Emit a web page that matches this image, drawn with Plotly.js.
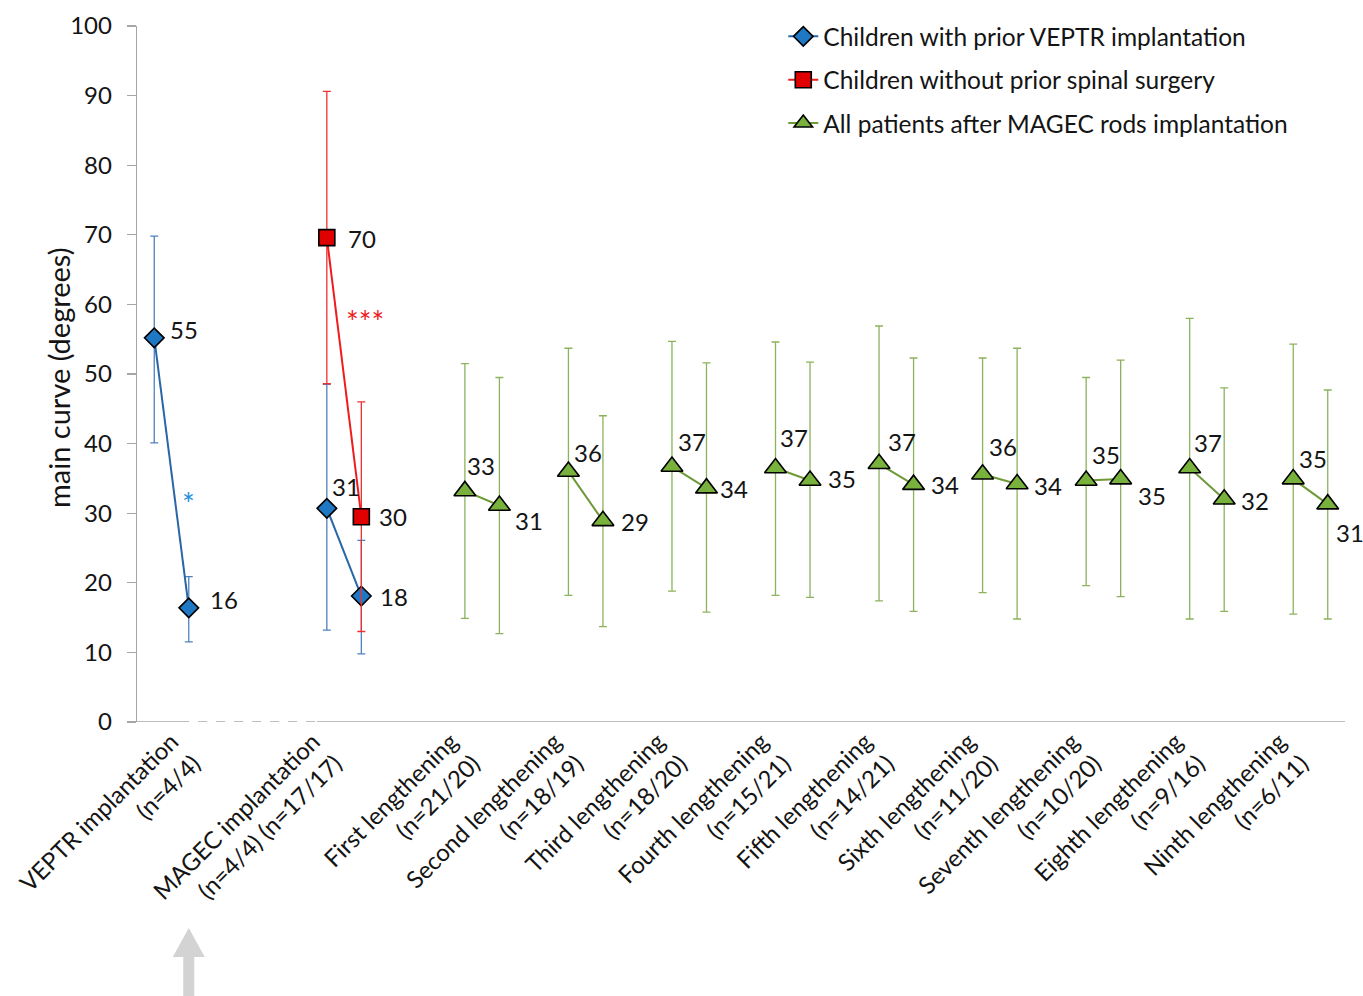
<!DOCTYPE html>
<html>
<head>
<meta charset="utf-8">
<script src="https://cdn.plot.ly/plotly-3.0.1.min.js"></script>
<style>html,body{margin:0;padding:0;background:#fff;} #chart{width:1363px;height:996px;}</style>
</head>
<body>
<div id="chart"></div>
<script>
// ---- Categories (x axis) ----
const categories = [
  'VEPTR implantation<br>(n=4/4)',
  'MAGEC implantation<br>(n=4/4) (n=17/17)',
  'First lengthening<br>(n=21/20)',
  'Second lengthening<br>(n=18/19)',
  'Third lengthening<br>(n=18/20)',
  'Fourth lengthening<br>(n=15/21)',
  'Fifth lengthening<br>(n=14/21)',
  'Sixth lengthening<br>(n=11/20)',
  'Seventh lengthening<br>(n=10/20)',
  'Eighth lengthening<br>(n=9/16)',
  'Ninth lengthening<br>(n=6/11)'
];
// first slot index of each category's pair (before / after)
const catSlot = [0, 5, 9, 12, 15, 18, 21, 24, 27, 30, 33];

// ---- Series 1: Children with prior VEPTR implantation ----
const veptrCat   = [0, 0, 1, 1];
const veptrStep  = [0, 1, 0, 1];
const veptrMean  = [55.2, 16.4, 30.7, 18.1];
const veptrUpper = [69.8, 20.9, 48.5, 26.1];
const veptrLower = [40.1, 11.5, 13.2, 9.8];
const veptrText  = ['55', '16', '31', '18'];

// ---- Series 2: Children without prior spinal surgery ----
const noSurgCat   = [1, 1];
const noSurgStep  = [0, 1];
const noSurgMean  = [69.6, 29.5];
const noSurgUpper = [90.6, 46.0];
const noSurgLower = [48.6, 13.0];
const noSurgText  = ['70', '30'];

// ---- Series 3: All patients after MAGEC rods implantation ----
const allCat   = [2,2,3,3,4,4,5,5,6,6,7,7,8,8,9,9,10,10];
const allStep  = [0,1,0,1,0,1,0,1,0,1,0,1,0,1,0,1,0,1];
const allMean  = [33.2,31.1,36.0,28.9,36.7,33.6,36.5,34.7,37.1,34.1,35.6,34.2,34.7,34.9,36.5,32.0,34.9,31.3];
const allUpper = [51.5,49.5,53.7,44.0,54.7,51.6,54.6,51.7,56.9,52.3,52.3,53.7,49.5,52.0,58.0,48.0,54.3,47.7];
const allLower = [14.9,12.7,18.2,13.7,18.8,15.8,18.2,17.9,17.4,15.9,18.6,14.8,19.6,18.0,14.8,15.9,15.5,14.8];
const allText  = ['33','31','36','29','37','34','37','35','37','34','36','34','35','35','37','32','35','31'];

// data-label offsets in pixels [dx to text left edge, dy to text middle] (style)
const veptrOff  = [[14,-8],[19,-8],[3,-22],[17,0]];
const noSurgOff = [[19,1],[16,0]];
const allOff = [[0,-25],[14,15],[4,-19],[16,1],[4,-25],[12,0],[2,-30],[16,-2],[7,-22],
                [15,0],[4,-28],[15,2],[4,-26],[15,16],[2,-25],[15,1],[4,-21],[6,28]];

// build arrays with gaps between pairs
function build(cat, step, mean, upper, lower) {
  const o = {x:[], y:[], up:[], dn:[], px:[], py:[]};
  for (let i = 0; i < mean.length; i++) {
    if (i > 0 && cat[i] !== cat[i-1]) {
      o.x.push(null); o.y.push(null); o.up.push(null); o.dn.push(null);
    }
    const xv = catSlot[cat[i]] + step[i];
    o.x.push(xv);
    o.y.push(mean[i]);
    o.up.push(upper[i] - mean[i]);
    o.dn.push(mean[i] - lower[i]);
    o.px.push(xv);
    o.py.push(mean[i]);
  }
  return o;
}

const A = build(veptrCat, veptrStep, veptrMean, veptrUpper, veptrLower);
const B = build(noSurgCat, noSurgStep, noSurgMean, noSurgUpper, noSurgLower);
const C = build(allCat, allStep, allMean, allUpper, allLower);

const FONT = 'Lato, "Open Sans", sans-serif';
const TXT = '#141414';

function trace(d, name, lineColor, errColor, mSymbol, mSize, mColor, group) {
  return {
    type: 'scatter', mode: 'lines+markers', name: name,
    legendgroup: group,
    x: d.x, y: d.y,
    connectgaps: false,
    line: {color: lineColor, width: 2},
    marker: {symbol: mSymbol, size: mSize, color: mColor, line: {color: '#000', width: 1.6}},
    error_y: {type: 'data', symmetric: false, array: d.up, arrayminus: d.dn,
              color: errColor, thickness: 1.3, width: 4},
    cliponaxis: false,
    hoverinfo: 'x+y'
  };
}

const data = [
  trace(A, 'Children with prior VEPTR implantation', '#2866a8', '#4f81bd', 'diamond', 15, '#1f78c4', 'g1'),
  trace(B, 'Children without prior spinal surgery', '#ee1c1c', '#f03030', 'square', 16, '#e00000', 'g2'),
  trace(C, 'All patients after MAGEC rods implantation', '#6e9a37', '#8cb35c', 'triangle-up', 19, '#78b13c', 'g3')
];

// data labels as annotations
const annotations = [];
function addLabels(d, texts, offs) {
  d.px.forEach((xv, i) => {
    annotations.push({
      x: xv, y: d.py[i], xref: 'x', yref: 'y',
      text: texts[i], showarrow: false, xanchor: 'left', yanchor: 'middle',
      xshift: offs[i][0], yshift: -offs[i][1],
      font: {family: FONT, size: 24, color: TXT}
    });
  });
}
addLabels(A, veptrText, veptrOff);
addLabels(B, noSurgText, noSurgOff);
addLabels(C, allText, allOff);
annotations.push(
  {x: 1, y: 32.3, xref: 'x', yref: 'y', text: '*', showarrow: false,
   font: {family: FONT, size: 30, color: '#1f8fdc'}, yshift: -6},
  {x: 6.1, y: 58.5, xref: 'x', yref: 'y', text: '***', showarrow: false,
   font: {family: FONT, size: 30, color: '#ee1c1c'}, yshift: -6},
  // y-axis title
  {x: 0, y: 0.5, xref: 'paper', yref: 'paper', text: 'main curve (degrees)', showarrow: false,
   textangle: -90, xanchor: 'center', yanchor: 'middle', xshift: -79, yshift: -4,
   font: {family: FONT, size: 29, color: TXT}}
);

const xRange = [-0.5, 34.5];
// category labels sit a little left of the pair centre (as in the original), kept inside the chart
const labelLead = 0.9;
const tickVals = catSlot.map(s => Math.max(s + 0.5 - labelLead, 0.5));
const arrowX = catSlot[0] + 1;
const arrowPaperX = (arrowX - xRange[0]) / (xRange[1] - xRange[0]);

const layout = {
  width: 1363, height: 996,
  margin: {l: 137, r: 18, t: 26, b: 274, autoexpand: false},
  paper_bgcolor: '#fff', plot_bgcolor: '#fff',
  font: {family: FONT, size: 24, color: TXT},
  showlegend: true,
  legend: {
    x: 0.535, xanchor: 'left', yref: 'container', y: 0.986, yanchor: 'top',
    font: {family: FONT, size: 24.5, color: TXT},
    bgcolor: 'rgba(0,0,0,0)', tracegroupgap: 8.5, traceorder: 'grouped'
  },
  xaxis: {
    range: xRange, showgrid: false, zeroline: false, showline: false, automargin: false,
    tickmode: 'array', tickvals: tickVals, ticktext: categories,
    tickangle: -45, ticks: '', tickfont: {family: FONT, size: 24, color: TXT}
  },
  yaxis: {
    range: [0, 100], dtick: 10, showgrid: false, zeroline: false, automargin: false,
    showline: true, linecolor: '#a6a6a6', linewidth: 1.3,
    ticks: 'outside', ticklen: 9, tickcolor: '#a6a6a6', tickwidth: 1.3,
    ticklabelstandoff: 10,
    tickfont: {family: FONT, size: 24, color: TXT}
  },
  shapes: [
    {type: 'line', xref: 'x', yref: 'y', x0: -0.5, x1: 0.75, y0: 0, y1: 0, line: {color: '#a6a6a6', width: 1.5}},
    {type: 'line', xref: 'x', yref: 'y', x0: 0.75, x1: 4.72, y0: 0, y1: 0, line: {color: '#a6a6a6', width: 1.5, dash: 'dash'}},
    {type: 'line', xref: 'x', yref: 'y', x0: 4.72, x1: 34.5, y0: 0, y1: 0, line: {color: '#a6a6a6', width: 1.5}},
    {type: 'path', xref: 'paper', yref: 'paper', xsizemode: 'pixel', ysizemode: 'pixel',
     xanchor: arrowPaperX, yanchor: 0,
     path: 'M0,-206 L16,-235 L5.5,-235 L5.5,-290 L-5.5,-290 L-5.5,-235 L-16,-235 Z',
     fillcolor: '#d3d3d3', line: {width: 0}, layer: 'above'}
  ],
  annotations: annotations
};

Plotly.newPlot('chart', data, layout, {displayModeBar: false, staticPlot: true});
</script>
</body>
</html>
